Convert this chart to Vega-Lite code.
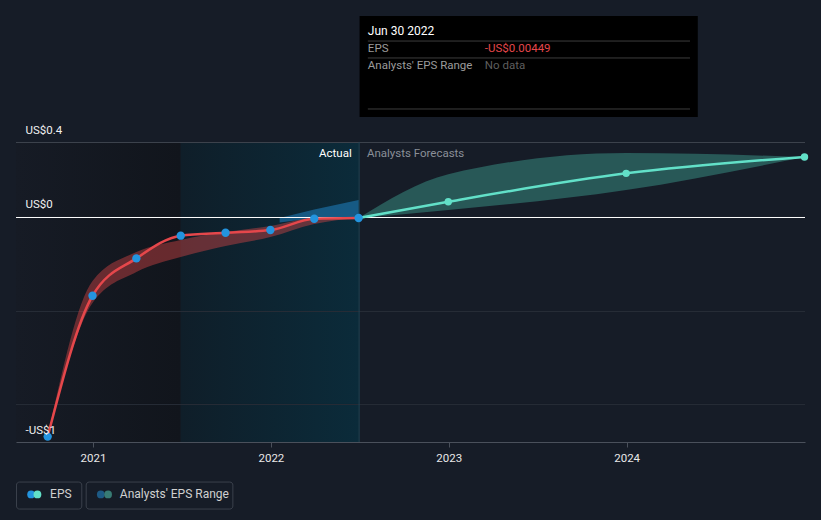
{
  "$schema": "https://vega.github.io/schema/vega-lite/v6.json",
  "autosize": "none",
  "width": 789,
  "height": 300,
  "padding": {"left": 16, "top": 142, "right": 16, "bottom": 78},
  "background": "#161c27",
  "config": {
    "view": {"stroke": null},
    "font": "Roboto",
    "text": {"font": "Roboto"}
  },
  "datasets": {
    "eps": [
      {"date": "2020-09-30", "eps": -0.976},
      {"date": "2020-12-31", "eps": -0.35},
      {"date": "2021-03-31", "eps": -0.184},
      {"date": "2021-06-30", "eps": -0.083},
      {"date": "2021-09-30", "eps": -0.07},
      {"date": "2021-12-31", "eps": -0.058},
      {"date": "2022-03-31", "eps": -0.008},
      {"date": "2022-06-30", "eps": -0.00449}
    ],
    "pastRange": [
      {"date": "2020-09-30", "high": -0.976, "low": -0.976},
      {"date": "2020-12-31", "high": -0.284, "low": -0.382},
      {"date": "2021-03-31", "high": -0.156, "low": -0.244},
      {"date": "2021-06-30", "high": -0.102, "low": -0.178},
      {"date": "2021-09-30", "high": -0.067, "low": -0.129},
      {"date": "2021-12-31", "high": -0.04, "low": -0.089},
      {"date": "2022-03-31", "high": -0.004, "low": -0.031},
      {"date": "2022-06-30", "high": -0.00449, "low": -0.00449}
    ],
    "pastForecastRange": [
      {"date": "2022-01-19", "high": -0.004, "low": -0.025},
      {"date": "2022-03-31", "high": 0.033, "low": -0.004},
      {"date": "2022-06-30", "high": 0.076, "low": -0.00449}
    ],
    "forecast": [
      {"date": "2022-06-30", "eps": -0.00449},
      {"date": "2022-12-31", "eps": 0.068},
      {"date": "2023-12-31", "eps": 0.194},
      {"date": "2024-12-31", "eps": 0.267}
    ],
    "forecastRange": [
      {"date": "2022-06-30", "high": -0.00449, "low": -0.00449},
      {"date": "2022-12-31", "high": 0.19, "low": 0.031},
      {"date": "2023-12-31", "high": 0.284, "low": 0.12},
      {"date": "2024-12-31", "high": 0.267, "low": 0.267}
    ]
  },
  "layer": [
    {
      "data": {"values": [{"start": "2020-07-27", "end": "2021-06-30"}]},
      "mark": {"type": "rect", "color": {"gradient": "linear", "x1": 0, "x2": 1, "y1": 0, "y2": 0, "stops": [{"offset": 0, "color": "#161b25"}, {"offset": 1, "color": "#11151c"}]}},
      "encoding": {
        "x": {"field": "start", "type": "temporal", "title": null,
          "scale": {"domain": [{"year": 2020, "month": 7, "date": 27}, {"year": 2025, "month": 1, "date": 1}]},
          "axis": {"format": "%Y", "values": [{"year": 2021, "month": 1, "date": 1}, {"year": 2022, "month": 1, "date": 1}, {"year": 2023, "month": 1, "date": 1}, {"year": 2024, "month": 1, "date": 1}], "grid": false, "domainColor": "#4a505b", "tickColor": "#4a505b", "tickSize": 5, "labelColor": "#e8e8e8", "labelFontSize": 11.5, "labelPadding": 5, "labelFont": "Roboto"}},
        "x2": {"field": "end"},
        "y": {"datum": 0.3333, "type": "quantitative", "title": null,
          "scale": {"domain": [-1, 0.3333], "nice": false, "zero": false},
          "axis": {"values": [-1, 0, 0.3333], "labelExpr": "datum.value == 0 ? 'US$0' : (datum.value > 0 ? 'US$0.4' : '-US$1')", "grid": false, "domain": false, "ticks": false, "zindex": 1, "labelOverlap": false, "labelBound": false, "labelFlush": false, "labelAlign": "left", "labelBaseline": "middle", "labelPadding": -9, "labelOffset": -12, "labelColor": "#f0f0f0", "labelFontSize": 11.5, "labelFont": "Roboto"}},
        "y2": {"datum": -1}
      }
    },
    {
      "data": {"values": [{"start": "2021-06-30", "end": "2022-06-30"}]},
      "mark": {"type": "rect", "color": {"gradient": "linear", "x1": 0, "x2": 1, "y1": 0, "y2": 0, "stops": [{"offset": 0, "color": "#0f1e29"}, {"offset": 1, "color": "#0b2b3a"}]}},
      "encoding": {
        "x": {"field": "start", "type": "temporal", "title": null},
        "x2": {"field": "end"},
        "y": {"datum": 0.3333, "type": "quantitative"},
        "y2": {"datum": -1}
      }
    },
    {
      "data": {"values": [{"g": 0.3333}]},
      "mark": {"type": "rule", "color": "#3c424c", "strokeWidth": 1, "yOffset": 0.5},
      "encoding": {"y": {"field": "g", "type": "quantitative", "title": null}}
    },
    {
      "data": {"values": [{"g": -0.4178}, {"g": -0.8311}]},
      "mark": {"type": "rule", "color": "#262c36", "strokeWidth": 1, "yOffset": 0.5},
      "encoding": {"y": {"field": "g", "type": "quantitative", "title": null}}
    },
    {
      "data": {"values": [{}]},
      "mark": {"type": "rule", "color": "#1f4658", "strokeWidth": 1, "xOffset": 0.5},
      "encoding": {
        "x": {"datum": {"year": 2022, "month": 6, "date": 30}, "type": "temporal"},
        "y": {"datum": 0.3333, "type": "quantitative"},
        "y2": {"datum": -1}
      }
    },
    {
      "data": {"name": "pastForecastRange"},
      "mark": {"type": "area", "interpolate": "linear", "color": "#2394df", "opacity": 0.45},
      "encoding": {
        "x": {"field": "date", "type": "temporal", "title": null},
        "y": {"field": "high", "type": "quantitative", "title": null},
        "y2": {"field": "low"}
      }
    },
    {
      "data": {"name": "pastRange"},
      "mark": {"type": "area", "interpolate": "monotone", "color": "#e04848", "opacity": 0.42},
      "encoding": {
        "x": {"field": "date", "type": "temporal", "title": null},
        "y": {"field": "high", "type": "quantitative", "title": null},
        "y2": {"field": "low"}
      }
    },
    {
      "data": {"name": "forecastRange"},
      "mark": {"type": "area", "interpolate": "monotone", "color": "#3a9488", "opacity": 0.5},
      "encoding": {
        "x": {"field": "date", "type": "temporal", "title": null},
        "y": {"field": "high", "type": "quantitative", "title": null},
        "y2": {"field": "low"}
      }
    },
    {
      "data": {"values": [{"g": 0}]},
      "mark": {"type": "rule", "color": "#ffffff", "strokeWidth": 1, "yOffset": 0.5},
      "encoding": {"y": {"field": "g", "type": "quantitative", "title": null}}
    },
    {
      "data": {"name": "forecast"},
      "mark": {"type": "line", "interpolate": "monotone", "color": "#62e0c8", "strokeWidth": 2.5},
      "encoding": {
        "x": {"field": "date", "type": "temporal", "title": null},
        "y": {"field": "eps", "type": "quantitative", "title": null}
      }
    },
    {
      "data": {"name": "forecast"},
      "transform": [{"filter": "datum.eps > 0"}],
      "mark": {"type": "point", "filled": true, "color": "#62e0c8", "size": 55, "opacity": 1},
      "encoding": {
        "x": {"field": "date", "type": "temporal", "title": null},
        "y": {"field": "eps", "type": "quantitative", "title": null}
      }
    },
    {
      "data": {"name": "eps"},
      "mark": {"type": "line", "interpolate": "monotone", "color": "#e5474b", "strokeWidth": 2.5},
      "encoding": {
        "x": {"field": "date", "type": "temporal", "title": null},
        "y": {"field": "eps", "type": "quantitative", "title": null}
      }
    },
    {
      "data": {"name": "eps"},
      "transform": [{"filter": "datum.date != '2022-06-30'"}],
      "mark": {"type": "point", "filled": true, "color": "#2394df", "size": 70, "opacity": 1},
      "encoding": {
        "x": {"field": "date", "type": "temporal", "title": null},
        "y": {"field": "eps", "type": "quantitative", "title": null}
      }
    },
    {
      "data": {"name": "eps"},
      "transform": [{"filter": "datum.date == '2022-06-30'"}],
      "mark": {"type": "point", "filled": true, "color": "#2394df", "size": 75, "opacity": 1, "stroke": "#ffffff", "strokeWidth": 1.5},
      "encoding": {
        "x": {"field": "date", "type": "temporal", "title": null},
        "y": {"field": "eps", "type": "quantitative", "title": null}
      }
    },
    {
      "data": {"values": [{}]},
      "mark": {"type": "text", "text": "Actual", "align": "right", "baseline": "middle", "color": "#ffffff", "fontSize": 11.5},
      "encoding": {
        "x": {"datum": {"year": 2022, "month": 6, "date": 16}, "type": "temporal"},
        "y": {"datum": 0.28, "type": "quantitative"}
      }
    },
    {
      "data": {"values": [{}]},
      "mark": {"type": "text", "text": "Analysts Forecasts", "align": "left", "baseline": "middle", "color": "#8a8f98", "fontSize": 11.5},
      "encoding": {
        "x": {"datum": {"year": 2022, "month": 7, "date": 17}, "type": "temporal"},
        "y": {"datum": 0.28, "type": "quantitative"}
      }
    },
    {
      "data": {"values": [{}]},
      "mark": {"type": "rect", "color": "#000000"},
      "encoding": {
        "x": {"datum": {"year": 2022, "month": 7, "date": 2}, "type": "temporal"},
        "x2": {"datum": {"year": 2024, "month": 5, "date": 26}},
        "y": {"datum": 0.8933, "type": "quantitative"},
        "y2": {"datum": 0.4444}
      }
    },
    {
      "data": {"values": [{"g": 0.782}, {"g": 0.7067}, {"g": 0.48}]},
      "mark": {"type": "rule", "color": "#3d3d3d", "strokeWidth": 1},
      "encoding": {
        "x": {"datum": {"year": 2022, "month": 7, "date": 19}, "type": "temporal"},
        "x2": {"datum": {"year": 2024, "month": 5, "date": 10}},
        "y": {"field": "g", "type": "quantitative", "title": null}
      }
    },
    {
      "data": {"values": [{}]},
      "mark": {"type": "text", "text": "Jun 30 2022", "align": "left", "baseline": "middle", "color": "#ffffff", "fontSize": 12},
      "encoding": {
        "x": {"datum": {"year": 2022, "month": 7, "date": 19}, "type": "temporal"},
        "y": {"datum": 0.8267, "type": "quantitative"}
      }
    },
    {
      "data": {"values": [{}]},
      "mark": {"type": "text", "text": "EPS", "align": "left", "baseline": "middle", "color": "#9b9b9b", "fontSize": 11.5},
      "encoding": {
        "x": {"datum": {"year": 2022, "month": 7, "date": 19}, "type": "temporal"},
        "y": {"datum": 0.7467, "type": "quantitative"}
      }
    },
    {
      "data": {"values": [{}]},
      "mark": {"type": "text", "text": "-US$0.00449", "align": "left", "baseline": "middle", "color": "#e5474b", "fontSize": 11.5},
      "encoding": {
        "x": {"datum": {"year": 2023, "month": 3, "date": 16}, "type": "temporal"},
        "y": {"datum": 0.7467, "type": "quantitative"}
      }
    },
    {
      "data": {"values": [{}]},
      "mark": {"type": "text", "text": "Analysts' EPS Range", "align": "left", "baseline": "middle", "color": "#9b9b9b", "fontSize": 11.5},
      "encoding": {
        "x": {"datum": {"year": 2022, "month": 7, "date": 19}, "type": "temporal"},
        "y": {"datum": 0.671, "type": "quantitative"}
      }
    },
    {
      "data": {"values": [{}]},
      "mark": {"type": "text", "text": "No data", "align": "left", "baseline": "middle", "color": "#5e5e5e", "fontSize": 11.5},
      "encoding": {
        "x": {"datum": {"year": 2023, "month": 3, "date": 16}, "type": "temporal"},
        "y": {"datum": 0.671, "type": "quantitative"}
      }
    },
    {
      "data": {"values": [{}]},
      "mark": {"type": "rect", "fillOpacity": 0, "stroke": "#3b414c", "strokeWidth": 1, "cornerRadius": 3},
      "encoding": {
        "x": {"datum": {"year": 2020, "month": 7, "date": 28}, "type": "temporal"},
        "x2": {"datum": {"year": 2020, "month": 12, "date": 9}},
        "y": {"datum": -1.178, "type": "quantitative"},
        "y2": {"datum": -1.298}
      }
    },
    {
      "data": {"values": [{}]},
      "mark": {"type": "rect", "fillOpacity": 0, "stroke": "#3b414c", "strokeWidth": 1, "cornerRadius": 3},
      "encoding": {
        "x": {"datum": {"year": 2020, "month": 12, "date": 18}, "type": "temporal"},
        "x2": {"datum": {"year": 2021, "month": 10, "date": 15}},
        "y": {"datum": -1.178, "type": "quantitative"},
        "y2": {"datum": -1.298}
      }
    },
    {
      "data": {"values": [{}]},
      "mark": {"type": "point", "filled": true, "opacity": 1, "color": "#2394df", "size": 60},
      "encoding": {
        "x": {"datum": {"year": 2020, "month": 8, "date": 27}, "type": "temporal"},
        "y": {"datum": -1.233, "type": "quantitative"}
      }
    },
    {
      "data": {"values": [{}]},
      "mark": {"type": "point", "filled": true, "opacity": 1, "color": "#62e0c8", "size": 60},
      "encoding": {
        "x": {"datum": {"year": 2020, "month": 9, "date": 9}, "type": "temporal"},
        "y": {"datum": -1.233, "type": "quantitative"}
      }
    },
    {
      "data": {"values": [{}]},
      "mark": {"type": "text", "text": "EPS", "align": "left", "baseline": "middle", "color": "#d0d0d0", "fontSize": 12},
      "encoding": {
        "x": {"datum": {"year": 2020, "month": 10, "date": 5}, "type": "temporal"},
        "y": {"datum": -1.233, "type": "quantitative"}
      }
    },
    {
      "data": {"values": [{}]},
      "mark": {"type": "point", "filled": true, "opacity": 1, "color": "#1d5a85", "size": 60},
      "encoding": {
        "x": {"datum": {"year": 2021, "month": 1, "date": 17}, "type": "temporal"},
        "y": {"datum": -1.233, "type": "quantitative"}
      }
    },
    {
      "data": {"values": [{}]},
      "mark": {"type": "point", "filled": true, "opacity": 1, "color": "#387b74", "size": 60},
      "encoding": {
        "x": {"datum": {"year": 2021, "month": 2, "date": 1}, "type": "temporal"},
        "y": {"datum": -1.233, "type": "quantitative"}
      }
    },
    {
      "data": {"values": [{}]},
      "mark": {"type": "text", "text": "Analysts' EPS Range", "align": "left", "baseline": "middle", "color": "#d0d0d0", "fontSize": 12},
      "encoding": {
        "x": {"datum": {"year": 2021, "month": 2, "date": 25}, "type": "temporal"},
        "y": {"datum": -1.233, "type": "quantitative"}
      }
    }
  ]
}
